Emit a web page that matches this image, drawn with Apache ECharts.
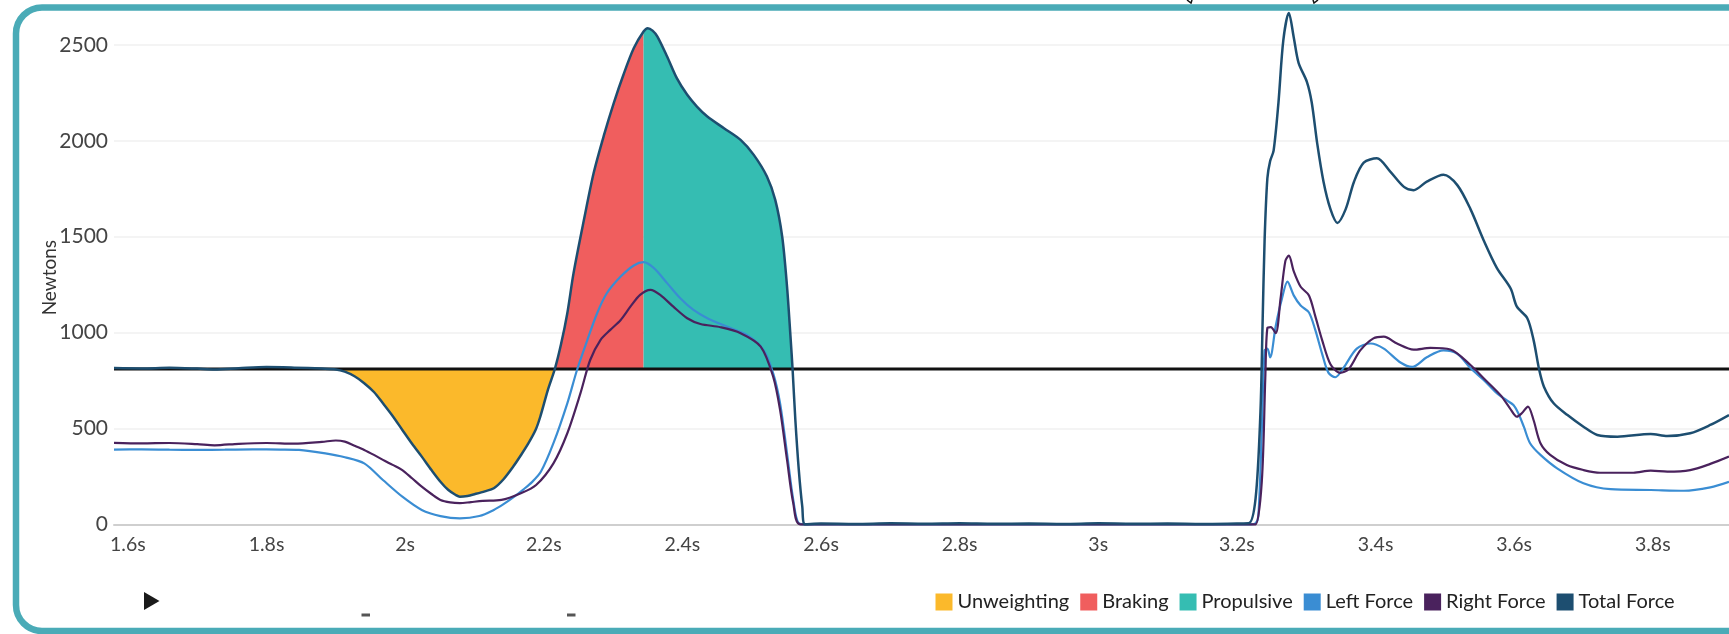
<!DOCTYPE html>
<html>
<head>
<meta charset="utf-8">
<script src="https://cdn.jsdelivr.net/npm/echarts@6/dist/echarts.min.js"></script>
<style>
html,body{margin:0;padding:0;background:#fff;}
#chart{width:1729px;height:634px;}
</style>
</head>
<body>
<div id="chart"></div>
<script>
// ---- data ----
const xTickValues = [1.6, 1.8, 2.0, 2.2, 2.4, 2.6, 2.8, 3.0, 3.2, 3.4, 3.6, 3.8];
const xTickLabels = ['1.6s', '1.8s', '2s', '2.2s', '2.4s', '2.6s', '2.8s', '3s', '3.2s', '3.4s', '3.6s', '3.8s'];
const xMin = 1.58, xMax = 3.91;
const yTicks = [0, 500, 1000, 1500, 2000, 2500];
const bodyweight = 810;

const phaseNames = ['Unweighting', 'Braking', 'Propulsive'];
const phaseStart = [1.90, 2.216, 2.344];
const phaseEnd = [2.216, 2.344, 2.559];

const totalT = [1.58,1.62,1.66,1.70,1.725,1.76,1.80,1.84,1.88,1.90,
  1.913,1.927,1.941,1.955,1.968,1.982,1.996,2.010,2.024,2.038,
  2.051,2.062,2.073,2.079,2.090,2.101,2.115,2.128,2.142,2.156,
  2.167,2.178,2.188,2.195,2.206,2.216,2.225,2.234,2.243,2.258,
  2.272,2.287,2.301,2.315,2.330,2.344,2.350,2.357,2.364,2.378,
  2.392,2.407,2.421,2.436,2.460,2.484,2.503,2.522,2.534,2.544,
  2.551,2.556,2.559,2.563,2.568,2.573,2.577,2.60,2.65,2.70,
  2.75,2.80,2.85,2.90,2.95,3.00,3.05,3.10,3.15,3.20,
  3.217,3.227,3.234,3.237,3.240,3.244,3.248,3.253,3.260,3.267,
  3.275,3.282,3.289,3.301,3.308,3.316,3.325,3.335,3.345,3.357,
  3.369,3.383,3.402,3.421,3.441,3.455,3.474,3.498,3.518,3.537,
  3.556,3.575,3.595,3.604,3.619,3.628,3.636,3.643,3.657,3.677,
  3.700,3.720,3.749,3.797,3.821,3.854,3.883,3.910];
const totalForce = [815,813,816,812,808,814,820,817,812,808,
  796,772,736,690,631,565,492,420,353,283,
  222,180,153,144,148,158,172,188,235,301,
  360,423,490,561,701,810,940,1101,1310,1588,
  1832,2031,2197,2345,2484,2570,2588,2575,2544,2440,
  2327,2240,2179,2127,2066,2005,1927,1814,1692,1501,
  1240,979,810,544,283,92,0,4,2,5,
  3,6,3,4,2,5,3,4,2,4,
  5,135,584,1033,1482,1805,1895,1949,2200,2524,
  2667,2541,2407,2308,2200,1984,1787,1644,1572,1644,
  1787,1886,1909,1841,1760,1743,1787,1823,1769,1644,
  1482,1338,1230,1135,1075,962,809,718,631,570,
  509,466,457,471,461,475,518,570];

const leftT = [1.58,1.62,1.66,1.70,1.74,1.78,1.82,1.847,1.885,1.913,
  1.941,1.968,1.996,2.024,2.051,2.079,2.107,2.128,2.142,2.156,
  2.170,2.183,2.196,2.214,2.234,2.248,2.263,2.277,2.291,2.311,
  2.330,2.344,2.359,2.378,2.397,2.416,2.436,2.464,2.493,2.517,
  2.531,2.541,2.551,2.560,2.568,2.58,2.65,2.75,2.85,2.95,
  3.05,3.15,3.22,3.227,3.231,3.236,3.240,3.244,3.248,3.256,
  3.265,3.273,3.282,3.292,3.304,3.313,3.323,3.332,3.342,3.354,
  3.373,3.393,3.412,3.436,3.453,3.474,3.498,3.518,3.537,3.556,
  3.575,3.590,3.599,3.606,3.614,3.623,3.638,3.662,3.700,3.739,
  3.797,3.845,3.883,3.910];
const leftForce = [390,391,389,388,389,391,390,388,370,350,
  318,231,144,75,43,31,43,75,105,140,
  180,220,275,423,631,805,962,1101,1205,1292,
  1350,1367,1336,1258,1179,1118,1075,1031,988,910,
  788,631,370,127,5,0,0,0,0,0,
  0,0,0,5,43,494,907,916,871,1033,
  1177,1266,1194,1141,1105,1015,889,791,767,817,
  916,943,916,844,821,871,907,889,815,753,
  684,645,622,579,509,423,362,292,214,183,
  179,175,193,222];

const rightT = [1.58,1.62,1.66,1.70,1.725,1.76,1.80,1.84,1.88,1.90,
  1.913,1.927,1.941,1.955,1.968,1.982,1.996,2.010,2.024,2.038,
  2.051,2.065,2.079,2.095,2.112,2.139,2.167,2.189,2.214,2.234,
  2.253,2.267,2.282,2.296,2.311,2.325,2.339,2.354,2.368,2.387,
  2.407,2.426,2.455,2.484,2.513,2.531,2.541,2.551,2.560,2.570,
  2.65,2.75,2.85,2.95,3.05,3.15,3.22,3.227,3.236,3.241,
  3.244,3.249,3.256,3.263,3.270,3.275,3.282,3.292,3.304,3.313,
  3.323,3.335,3.349,3.361,3.378,3.397,3.412,3.431,3.455,3.479,
  3.508,3.537,3.556,3.580,3.594,3.604,3.611,3.620,3.628,3.638,
  3.652,3.676,3.700,3.724,3.772,3.797,3.821,3.854,3.883,3.910];
const rightForce = [425,422,424,418,412,420,424,421,430,437,
  431,410,388,362,336,310,283,240,196,158,
  127,114,110,116,122,127,162,205,318,475,
  684,857,962,1014,1066,1135,1197,1223,1197,1135,
  1075,1045,1028,997,927,770,596,336,110,0,
  0,0,0,0,0,0,0,0,225,763,
  1024,1028,997,1177,1374,1401,1320,1239,1194,1087,
  961,835,790,808,907,970,979,943,911,920,
  912,831,762,675,605,561,579,614,544,423,
  362,309,283,269,269,280,275,283,315,353];

// ---- styles ----
const COLORS = {
  Unweighting: '#FBB92B',
  Braking: '#F05E5E',
  Propulsive: '#35BDB2',
  'Left Force': '#3A8DD3',
  'Right Force': '#4A225D',
  'Total Force': '#1D4E70'
};
const FONT = 'Lato';

const zip = (ts, vs) => ts.map((t, i) => [t, vs[i]]);
const totalData = zip(totalT, totalForce);

const phaseSeries = phaseNames.map((name, i) => ({
  name: name,
  type: 'line',
  z: 1,
  clip: false,
  smooth: 0.3,
  symbol: 'none',
  silent: true,
  lineStyle: { width: 0 },
  itemStyle: { color: COLORS[name] },
  areaStyle: { color: COLORS[name], opacity: 1, origin: bodyweight },
  data: totalData.filter(p => p[0] >= phaseStart[i] - 1e-9 && p[0] <= phaseEnd[i] + 1e-9)
}));

const chart = echarts.init(document.getElementById('chart'), null, { renderer: 'canvas' });

const option = {
  animation: false,
  backgroundColor: '#ffffff',
  textStyle: { fontFamily: FONT },
  grid: { left: 114, top: 45, width: 1615, height: 479.3, containLabel: false },
  legend: {
    left: 930.5,
    top: 587,
    itemWidth: 17,
    itemHeight: 17,
    itemGap: 11,
    icon: 'rect',
    itemStyle: { borderWidth: 0 },
    textStyle: { fontFamily: FONT, fontSize: 20, color: '#222' },
    data: ['Unweighting', 'Braking', 'Propulsive', 'Left Force', 'Right Force', 'Total Force'],
    selectedMode: false
  },
  xAxis: {
    type: 'value',
    min: xMin,
    max: xMax,
    axisLine: { show: true, lineStyle: { color: '#cfcfcf', width: 2 } },
    axisTick: { show: false },
    splitLine: { show: false },
    axisLabel: {
      customValues: xTickValues,
      margin: 10,
      fontFamily: FONT,
      fontSize: 19.5,
      color: '#444',
      formatter: function (v) {
        for (let i = 0; i < xTickValues.length; i++) {
          if (Math.abs(v - xTickValues[i]) < 1e-6) return xTickLabels[i];
        }
        return '';
      }
    }
  },
  yAxis: {
    type: 'value',
    min: yTicks[0],
    max: yTicks[yTicks.length - 1],
    interval: yTicks[1] - yTicks[0],
    name: 'Newtons',
    nameLocation: 'middle',
    nameGap: 55,
    nameMoveOverlap: false,
    nameTextStyle: { fontFamily: FONT, fontSize: 19, color: '#333', padding: [0, 0, 0, 14] },
    axisLine: { show: false },
    axisTick: { show: false },
    axisLabel: {
      margin: 6, fontFamily: FONT, fontSize: 21, color: '#444',
      formatter: function (v) { return String(v); }
    },
    splitLine: { show: true, lineStyle: { color: '#f1f1f1', width: 1.5 } }
  },
  series: phaseSeries.concat([
    {
      name: 'Bodyweight',
      type: 'line',
      z: 2,
      symbol: 'none',
      silent: true,
      lineStyle: { color: '#111', width: 3 },
      data: [[xMin, bodyweight], [xMax, bodyweight]]
    },
    {
      name: 'Left Force',
      type: 'line',
      z: 3,
      clip: false,
      smooth: 0.3,
      symbol: 'none',
      itemStyle: { color: COLORS['Left Force'] },
      lineStyle: { color: COLORS['Left Force'], width: 2.2 },
      data: zip(leftT, leftForce)
    },
    {
      name: 'Right Force',
      type: 'line',
      z: 3,
      clip: false,
      smooth: 0.3,
      symbol: 'none',
      itemStyle: { color: COLORS['Right Force'] },
      lineStyle: { color: COLORS['Right Force'], width: 2.2 },
      data: zip(rightT, rightForce)
    },
    {
      name: 'Total Force',
      type: 'line',
      z: 4,
      clip: false,
      smooth: 0.3,
      symbol: 'none',
      itemStyle: { color: COLORS['Total Force'] },
      lineStyle: { color: COLORS['Total Force'], width: 2.5 },
      data: totalData
    }
  ]),
  graphic: [
    {
      type: 'rect',
      z: 100,
      silent: true,
      shape: { x: 16, y: 7.5, width: 1800, height: 623.5, r: 26 },
      style: { fill: 'none', stroke: '#4AABB7', lineWidth: 6.5 }
    },
    {
      type: 'polygon',
      silent: true,
      shape: { points: [[144, 592], [159.5, 601], [144, 610]] },
      style: { fill: '#1a1a1a' }
    },
    {
      type: 'rect', silent: true,
      shape: { x: 361.5, y: 613.5, width: 8.5, height: 3 },
      style: { fill: '#555' }
    },
    {
      type: 'rect', silent: true,
      shape: { x: 567, y: 613.5, width: 8.5, height: 3 },
      style: { fill: '#555' }
    },
    {
      type: 'polyline', silent: true,
      shape: { points: [[1187, 0], [1191, 3], [1192, 0]] },
      style: { stroke: '#111', lineWidth: 1.5, fill: 'none' }
    },
    {
      type: 'polyline', silent: true,
      shape: { points: [[1313, 0], [1314, 3], [1318, 0]] },
      style: { stroke: '#111', lineWidth: 1.5, fill: 'none' }
    }
  ]
};
chart.setOption(option);
</script>
</body>
</html>
